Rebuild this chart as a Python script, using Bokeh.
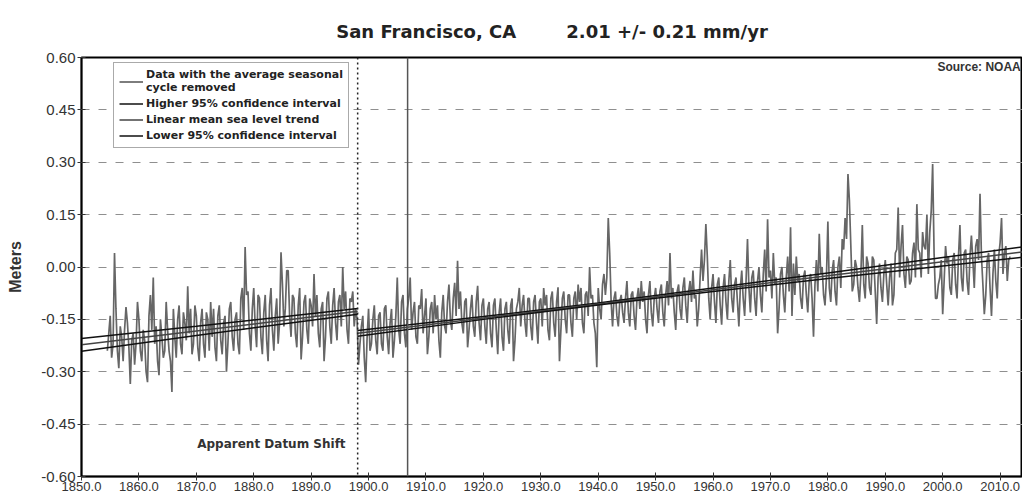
from bokeh.plotting import figure
from bokeh.models import (Range1d, FixedTicker, NumeralTickFormatter, Span, Label,
                          Legend, LegendItem, ColumnDataSource)
from bokeh.embed import file_html
from bokeh.resources import INLINE

# ---------------- data ----------------
TITLE_LEFT = "San Francisco, CA"
TITLE_RIGHT = "2.01 +/- 0.21 mm/yr"

# quarterly monthly-mean sea level, cm (seasonal cycle removed)
pre_start = 1854.5      # before the apparent datum shift
msl_pre_cm = [
    -24, -19,
    -14, -26, -22, 4,
    -12, -24, -29, -17,
    -20, -27, -18, -11.5,
    -16, -23, -33.5, -21,
    -19, -28, -22, -10,
    -15, -24, -27, -18,
    -21, -30, -33, -14,
    -8, -18, -3, -22,
    -17, -27, -31, -15,
    -20, -26, -24, -10,
    -18, -24, -27, -35.8,
    -12, -20, -26, -15,
    -11, -22, -25, -13,
    -16, -21, -5.5, -19,
    -12, -25, -22, -11,
    -14, -23, -27, -16,
    -12, -22, -26, -13,
    -15, -24, -10, -20,
    -12, -23, -27, -14,
    -11, -21, -25, -16,
    -14, -30, -22, -12,
    -10, -20, -24, -15,
    -13, -22, -25, -9,
    -6, -18, 5.7, -8,
    -7, -19, -24, -12,
    -6, -17, -23, -8,
    -9, -20, -25, -13,
    -8, -21, -27, -11,
    -6, -18, -24, -14,
    -9, -22, -16, 4.2,
    -5, -17, -12, -1,
    -1, -14, -20, -8,
    -9, -19, -23, -11,
    -6, -26.5, -20, -10,
    -8, -18, -22, -9,
    -11, -17, -2, -14,
    -8, -19, -23, -12,
    -10, -27, -20, -9,
    -7, -17, -22, -11,
    -6, -16, -21, -10,
    -8, -17, 0, -12,
    -7, -18, -22, -9,
    -10, -7, -17, -12,
]
post_start = 1898.0     # after the apparent datum shift
msl_post_cm = [
    -15, -28, -22, -17,
    -14, -26, -33, -20,
    -12, -24, -22, -15,
    -11, -21, -25, -14,
    -13, -22, -24, -12,
    -11, -20, -25, -16,
    -12, -26, -21, -14,
    -3, -18, -22, -10,
    -8, -19, -23, -12,
    -9, -3, -18, -13,
    -10, -20, -22, -11,
    -12, -6.3, -19, -14,
    -9, -25, -20, -12,
    -10, -19, -8, -15,
    -11, -21, -26, -13,
    -8, -17, -19, -10,
    -5, -15, -18, -9,
    -4.5, -14, 1.8, -12,
    -7, -16, -19, -10,
    -9, -23, -18, -12,
    -8, -17, -20, -10,
    -5.4, -16, -21, -11,
    -9, -17, -22, -12,
    -10, -19, -23, -11,
    -9, -18, -25, -13,
    -9, -20, -24, -12,
    -10, -18, -22, -11,
    -9, -27, -21, -12,
    -10, -6, -17, -11,
    -8, -16, -20, -9,
    -9, -17, -21, -10,
    -8, -16, -22, -10,
    -9, -17, -6, -11,
    -8, -18, -21, -9,
    -7, -16, -20, -10,
    -5.8, -27, -18, -9,
    -7, -15, -19, -8,
    -8, -16, -20, -9,
    -7, -15, -5, -10,
    -6, -16, -19, -8,
    -7, -14, 0, -9,
    -8, -16, -19, -28.7,
    -6, -12, -15, -5,
    -2, -8, -3, 14,
    4, -10, -17, -9,
    -7, -14, -17, -10,
    -8, -13, -16, -9,
    -4, -13, -17, -8,
    -7, -14, -18, -9,
    -6, -12, -4, -10,
    -7, -15, -19, -8,
    -4, -13, -17, -9,
    -6, -12, -16, -7,
    -5, -13, -17, -8,
    -4, -11, 4, -9,
    -6, -13, -18, -7,
    -5, -12, -15, -6,
    -3, -11, -16, -7,
    -4, -10, -1, -9,
    -8, -17, -12, -3,
    5, -4, 2, 12.3,
    3, -9, -15, -6,
    -2, -10, -16, -5,
    -3, -11, -16.5, -6,
    -2, -10, -15, -4,
    2, -9, -13, -5,
    -3, -10, -17, -6,
    -1, -9, -14, -4,
    8, -6, -13, -3,
    -1, -9, -14, -4,
    0, -8, -13, -2,
    5, -7, 13.7, -3,
    -1, -9, 4, -5,
    -3, -19, -12, -2,
    0, -8, -13, -3,
    3, -7, 11.4, -14,
    1, -8, 3, -4,
    -2, -9, -12, -3,
    -1, -8, -13, -4,
    -2, -9, -20, -5,
    2, -7, 9.5, -2,
    0, -8, -11, -3,
    13, -6, -10, -1,
    2, -7, -11, 0,
    3, -6, 8, 5,
    14, 8, 26.6, 19,
    6, -7, -5, 2,
    0, -6, -10, -2,
    12, -5, -9, 3,
    1, -6, -8, 3,
    2, -7, -16.3, -3,
    1, -6, -10, -2,
    2, -5, -11, -3,
    1, -11, -8, 4,
    5, 17, -3, 6,
    12, -2, -6, 3,
    2, -5, -4, 4,
    7, -3, 18, 5,
    4, -3, 10, 6,
    5, 15, -2, 10,
    16, 29.5, 4, -9,
    -9, -5, -3, 2,
    -13.5, -4, 6, 1,
    3, -6, -8, 2,
    4, -5, -9, 3,
    12, -3, -7, 4,
    5, -4, -8, 3,
    9, 2, -6, 6,
    8, 2, 21, 3,
    -5, -13.5, -8, 2,
    4, -6, -14, -2,
    5, -4, -9, 3,
    7, 14, -2, 4,
    6, -4, 2, 3,
]

# linear trend and 95% confidence interval (m), two segments split at the datum shift
trend_years = [1850, 1870, 1898.1, float("nan"), 1898.1, 1920, 1940, 1960, 1980, 2000, 2014]
trend_m = [-0.223, -0.183, -0.127, float("nan"), -0.190, -0.146, -0.106, -0.065, -0.025, 0.015, 0.043]
upper_m = [-0.205, -0.170, -0.119, float("nan"), -0.182, -0.142, -0.103, -0.060, -0.017, 0.027, 0.058]
lower_m = [-0.241, -0.196, -0.135, float("nan"), -0.198, -0.150, -0.109, -0.070, -0.033, 0.003, 0.028]

datum_shift_year = 1898.1
earthquake_year = 1906.8

y_ticks = [-0.60, -0.45, -0.30, -0.15, 0.00, 0.15, 0.30, 0.45, 0.60]
x_ticks = [1850, 1860, 1870, 1880, 1890, 1900, 1910, 1920, 1930, 1940,
           1950, 1960, 1970, 1980, 1990, 2000, 2010]

# ---------------- build sources ----------------
t = [pre_start + 0.25 * i for i in range(len(msl_pre_cm))] + \
    [post_start + 0.25 * i for i in range(len(msl_post_cm))]
v = [c / 100.0 for c in msl_pre_cm + msl_post_cm]
data_src = ColumnDataSource(dict(t=t, v=v))
trend_src = ColumnDataSource(dict(t=trend_years, m=trend_m, u=upper_m, l=lower_m))

FONT = "Liberation Sans"
WIDE = "DejaVu Sans"

p = figure(width=1022, height=500, output_backend="svg", toolbar_location=None,
           x_range=Range1d(1850, 2013.9), y_range=Range1d(-0.6, 0.6),
           min_border_left=81, min_border_right=0, min_border_top=57, min_border_bottom=24)

p.title.text = TITLE_LEFT + "\u00a0" * 8 + TITLE_RIGHT
p.title.align = "center"
p.title.text_font = WIDE
p.title.text_font_size = "18px"
p.title.text_font_style = "bold"
p.title.text_color = "#222222"
p.title.standoff = 32

p.outline_line_color = "black"
p.outline_line_width = 2
p.background_fill_color = "white"
p.border_fill_color = "white"

# axes
p.yaxis.ticker = FixedTicker(ticks=y_ticks)
p.yaxis.formatter = NumeralTickFormatter(format="0.00")
p.xaxis.ticker = FixedTicker(ticks=x_ticks)
p.xaxis.formatter = NumeralTickFormatter(format="0.0")
for ax in (p.xaxis, p.yaxis):
    ax.axis_line_color = "black"
    ax.axis_line_width = 1.5
    ax.major_tick_line_color = "#333333"
    ax.major_tick_in = 4
    ax.major_tick_out = 4
    ax.minor_tick_line_color = None
    ax.major_label_text_font = FONT
    ax.major_label_text_color = "#333333"
p.xaxis.major_label_text_font_size = "13px"
p.yaxis.major_label_text_font_size = "15px"
p.xaxis.major_label_standoff = 1
p.yaxis.major_label_standoff = 2
p.yaxis.axis_label = "Meters"
p.yaxis.axis_label_text_font = FONT
p.yaxis.axis_label_text_font_size = "16px"
p.yaxis.axis_label_text_font_style = "bold"
p.yaxis.axis_label_text_color = "#333333"
p.yaxis.axis_label_standoff = 14

p.xgrid.visible = False
p.ygrid.ticker = FixedTicker(ticks=y_ticks)
p.ygrid.grid_line_color = "#8f8f8f"
p.ygrid.grid_line_dash = "8 9"
p.ygrid.grid_line_width = 1.2

# vertical markers
p.add_layout(Span(location=datum_shift_year, dimension="height", line_color="#222222",
                  line_dash="2 3", line_width=1.5))
p.add_layout(Span(location=earthquake_year, dimension="height", line_color="#555555",
                  line_width=1.5))

# data + trend
r_data = p.line("t", "v", source=data_src, line_color="#666666", line_width=1.7)
r_up = p.line("t", "u", source=trend_src, line_color="#111111", line_width=1.5)
r_tr = p.line("t", "m", source=trend_src, line_color="#444444", line_width=1.5)
r_lo = p.line("t", "l", source=trend_src, line_color="#111111", line_width=1.5)

legend = Legend(items=[
    LegendItem(label="Data with the average seasonal\ncycle removed", renderers=[r_data]),
    LegendItem(label="Higher 95% confidence interval", renderers=[r_up]),
    LegendItem(label="Linear mean sea level trend", renderers=[r_tr]),
    LegendItem(label="Lower 95% confidence interval", renderers=[r_lo]),
], location=(32, 328))
legend.label_text_font = WIDE
legend.label_text_font_size = "11px"
legend.label_text_font_style = "bold"
legend.label_text_color = "#222222"
legend.label_height = 13
legend.label_text_line_height = 0.85
legend.glyph_width = 24
legend.glyph_height = 13
legend.spacing = 3
legend.padding = 5
legend.margin = 0
legend.label_standoff = 3
legend.border_line_color = "#555555"
legend.border_line_width = 1.2
legend.background_fill_alpha = 1.0
p.add_layout(legend)

p.add_layout(Label(x=1896.0, y=-0.507, text="Apparent Datum Shift",
                   text_align="right", text_baseline="middle", text_font=WIDE,
                   text_font_size="12px", text_font_style="bold", text_color="#333333"))
p.add_layout(Label(x=2013.6, y=0.593, text="Source: NOAA",
                   text_align="right", text_baseline="top", text_font=FONT,
                   text_font_size="12px", text_font_style="bold", text_color="#333333"))

open("out.html", "w").write(file_html(p, INLINE))
